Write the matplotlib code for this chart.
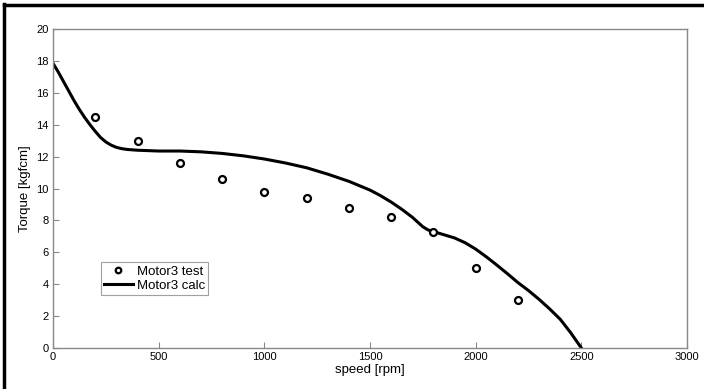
import matplotlib.pyplot as plt
import matplotlib.lines as mlines

plt.rcParams['font.family'] = ['Liberation Sans', 'DejaVu Sans']

# measured points
test_speed = [200, 400, 600, 800, 1000, 1200, 1400, 1600, 1800, 2000, 2200]
test_torque = [14.5, 13.0, 11.6, 10.6, 9.8, 9.4, 8.8, 8.2, 7.3, 5.0, 3.0]

# calculated curve
calc_speed = [0, 25, 50, 75, 100, 125, 150, 175, 200, 225, 250, 275, 300, 325, 350,
              400, 500, 600, 700, 800, 900, 1000, 1100, 1200, 1300, 1400, 1500,
              1550, 1600, 1650, 1700, 1725, 1750, 1775, 1800, 1825, 1850, 1875,
              1900, 1950, 2000, 2050, 2100, 2150, 2200, 2250, 2300, 2350, 2400,
              2450, 2500]
calc_torque = [17.85, 17.3, 16.7, 16.1, 15.5, 14.95, 14.45, 14.0, 13.58, 13.2, 12.92,
               12.72, 12.58, 12.5, 12.45, 12.4, 12.35, 12.35, 12.3, 12.2, 12.05,
               11.85, 11.6, 11.3, 10.9, 10.45, 9.9, 9.55, 9.15, 8.7, 8.2, 7.9, 7.6,
               7.4, 7.3, 7.2, 7.1, 7.0, 6.9, 6.6, 6.2, 5.72, 5.2, 4.66, 4.1, 3.6,
               3.05, 2.45, 1.8, 0.95, 0.0]

fig = plt.figure(figsize=(7.04, 3.89), dpi=100)
ax = fig.add_axes([0.0753, 0.1054, 0.9006, 0.82])

ax.plot(calc_speed, calc_torque, color='black', lw=2.2, label='Motor3 calc', zorder=2,
        solid_joinstyle='round')
ax.plot(test_speed, test_torque, 'o', mfc='white', mec='black', mew=1.6, ms=5,
        label='Motor3 test', zorder=3)

ax.set_xlim(0, 3000)
ax.set_ylim(0, 20)
ax.set_xticks(range(0, 3001, 500))
ax.set_yticks(range(0, 21, 2))
ax.tick_params(direction='in', length=4, color='#888888', labelsize=8, pad=3)
for s in ax.spines.values():
    s.set_color('#888888')
    s.set_linewidth(1.0)

ax.set_xlabel('speed [rpm]', fontsize=9.5, labelpad=1)
ax.set_ylabel('Torque [kgfcm]', fontsize=9.5, labelpad=4)

h, l = ax.get_legend_handles_labels()
leg = ax.legend([h[1], h[0]], [l[1], l[0]], loc='lower left',
                bbox_to_anchor=(0.075, 0.165), fontsize=9.5, frameon=True,
                fancybox=False, edgecolor='#888888', borderpad=0.25,
                handlelength=2.2, handletextpad=0.3, labelspacing=0.15,
                borderaxespad=0, markerscale=0.8)
leg.get_frame().set_linewidth(0.8)

# outer black frame of the picture (left and top)
fig.add_artist(mlines.Line2D([0.0057, 0.0057], [0, 0.99], color='black', lw=2.5,
                             transform=fig.transFigure))
fig.add_artist(mlines.Line2D([0.0057, 1.0], [0.988, 0.988], color='black', lw=2.5,
                             transform=fig.transFigure))

fig.savefig('out.png', dpi=100)
